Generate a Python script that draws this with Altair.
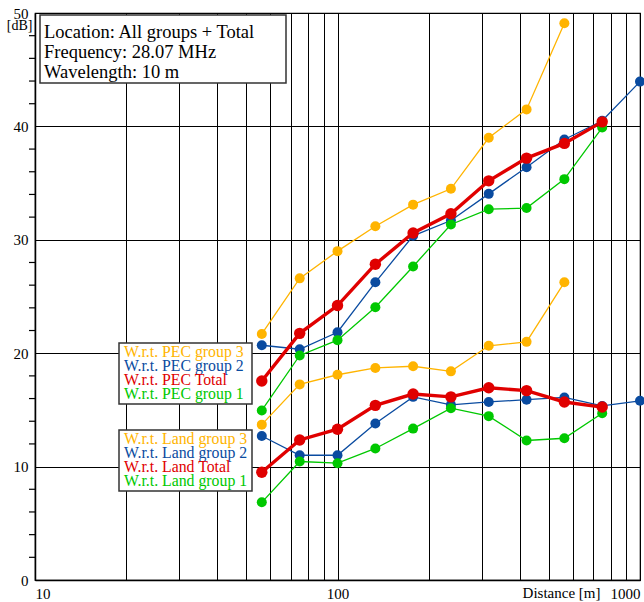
import altair as alt
import pandas as pd

# Sample distances (m), equally spaced on a log axis
distance_m = [56.2, 75.0, 100.0, 133.4, 177.8, 237.1, 316.2, 421.7, 562.3, 749.9, 1000.0]

# Gain with respect to a perfect electric conductor (dB)
pec_group3 = [21.7, 26.6, 29.0, 31.2, 33.1, 34.5, 39.0, 41.5, 49.1]
pec_group2 = [20.7, 20.35, 21.85, 26.25, 30.35, 31.7, 34.05, 36.4, 38.85, 40.5, 43.95]
pec_total = [17.55, 21.75, 24.2, 27.85, 30.6, 32.3, 35.2, 37.2, 38.5, 40.4]
pec_group1 = [14.95, 19.8, 21.15, 24.05, 27.65, 31.35, 32.7, 32.8, 35.35, 39.9]

# Gain with respect to land (dB)
land_group3 = [13.7, 17.25, 18.1, 18.7, 18.85, 18.4, 20.65, 21.0, 26.25]
land_group2 = [12.7, 11.0, 11.0, 13.8, 16.15, 15.45, 15.7, 15.9, 16.1, 15.35, 15.8]
land_total = [9.5, 12.35, 13.3, 15.4, 16.4, 16.15, 16.95, 16.7, 15.7, 15.25]
land_group1 = [6.85, 10.45, 10.3, 11.6, 13.35, 15.15, 14.45, 12.3, 12.5, 14.7]

members = ["group 3", "group 2", "Total", "group 1"]
member_colors = ["#FFB400", "#0A4BA0", "#E00000", "#00C800"]

x_grid_values = [10, 20, 30, 40, 50, 60, 70, 80, 90,
                 100, 200, 300, 400, 500, 600, 700, 800, 900, 1000]
x_tick_labels = [10, 100, 1000]
y_tick_values = [0, 10, 20, 30, 40, 50]
y_minor_values = [v for v in range(2, 50, 2) if v % 10 != 0]

info_lines = ["Location: All groups + Total", "Frequency: 28.07 MHz", "Wavelength: 10 m"]

series = {
    ("PEC", "group 3"): pec_group3,
    ("PEC", "group 2"): pec_group2,
    ("PEC", "Total"): pec_total,
    ("PEC", "group 1"): pec_group1,
    ("Land", "group 3"): land_group3,
    ("Land", "group 2"): land_group2,
    ("Land", "Total"): land_total,
    ("Land", "group 1"): land_group1,
}

rows = []
for (kind, member), vals in series.items():
    for d, v in zip(distance_m, vals):
        rows.append({"distance": d, "db": v, "kind": kind, "member": member})
df = pd.DataFrame(rows)

FONT = "Liberation Serif"

label_test = " || ".join(f"datum.value == {v}" for v in x_tick_labels)

x_enc = alt.X(
    "distance:Q",
    scale=alt.Scale(type="log", domain=[10, 1000]),
    axis=alt.Axis(
        values=x_grid_values,
        labelExpr=f"({label_test}) ? format(datum.value, 'd') : ''",
        labelOverlap=False,
        labelFlush=True,
        grid=True,
        ticks=False,
        tickSize=0,
        labelPadding=6,
        title="Distance [m]",
        titleX=565,
        titleY=17,
        titleAlign="right",
        titleAnchor="end",
        titleBaseline="alphabetic",
        titleFontWeight="normal",
    ),
)
y_enc = alt.Y(
    "db:Q",
    scale=alt.Scale(domain=[0, 50], nice=False),
    axis=alt.Axis(
        values=y_tick_values,
        grid=True,
        ticks=False,
        tickSize=0,
        labelPadding=7,
        labelOverlap=False,
        title="[dB]",
        titleAngle=0,
        titleX=-3,
        titleY=12,
        titleAlign="right",
        titleBaseline="middle",
        titleFontSize=14,
        titleFontWeight="normal",
    ),
)
color_enc = alt.Color(
    "member:N",
    scale=alt.Scale(domain=members, range=member_colors),
    legend=None,
)

base = alt.Chart(df)
layers = []

# Minor tick marks on the dB axis
minor = alt.Chart(pd.DataFrame({"db": y_minor_values})).mark_rule(
    color="black", strokeWidth=1.2
).encode(y=alt.Y("db:Q"), x=alt.value(-6), x2=alt.value(0))
layers.append(minor)

for member in ["group 3", "group 2", "group 1", "Total"]:
    is_total = member == "Total"
    sub = base.transform_filter(alt.datum.member == member)
    layers.append(
        sub.mark_line(strokeWidth=3.4 if is_total else 1.3).encode(
            x=x_enc, y=y_enc, color=color_enc, detail="kind:N"
        )
    )
    layers.append(
        sub.mark_circle(size=130 if is_total else 100, opacity=1).encode(
            x=x_enc, y=y_enc, color=color_enc
        )
    )


def box(x0, x1, y0, y1):
    return alt.Chart(pd.DataFrame({"k": [0]})).mark_rect(
        fill="white", stroke="#333333", strokeWidth=1.5
    ).encode(x=alt.value(x0), x2=alt.value(x1), y=alt.value(y0), y2=alt.value(y1))


def label(text, xpos, ypos, color, size):
    return alt.Chart(pd.DataFrame({"t": [text]})).mark_text(
        align="left", baseline="middle", font=FONT, fontSize=size, color=color
    ).encode(text="t:N", x=alt.value(xpos), y=alt.value(ypos))


# Information box
layers.append(box(5, 251, 2, 70))
for i, line in enumerate(info_lines):
    layers.append(label(line, 9, 19 + 20 * i, "black", 18.5))

# Legend boxes for both reference sets
for kind, top in [("PEC", 330), ("Land", 417)]:
    layers.append(box(84, 217, top, top + 61))
    for i, (member, col) in enumerate(zip(members, member_colors)):
        layers.append(label(f"W.r.t. {kind} {member}", 89, top + 8.5 + 14.1 * i, col, 15.8))

chart = (
    alt.layer(*layers)
    .properties(
        width=605,
        height=567,
        autosize=alt.AutoSizeParams(type="none"),
        padding={"left": 35, "top": 13, "right": 4, "bottom": 22},
    )
    .configure(font=FONT)
    .configure_view(stroke="black", strokeWidth=1.2)
    .configure_axis(
        gridColor="black",
        gridWidth=1,
        gridOpacity=1,
        domainColor="black",
        domainWidth=1.5,
        labelFont=FONT,
        labelFontSize=15,
        labelColor="black",
        titleFont=FONT,
        titleFontSize=15,
        titleColor="black",
    )
)

chart.save("out.html", embed_options={"renderer": "svg", "actions": False})
